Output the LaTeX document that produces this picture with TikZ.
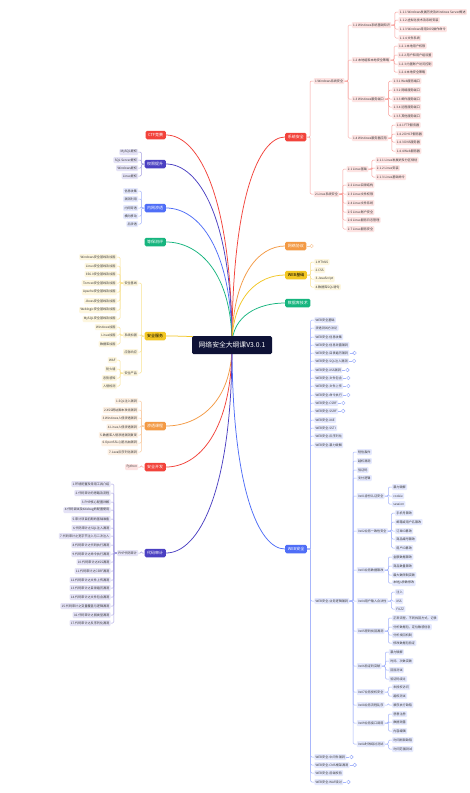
\documentclass[tikz,border=0pt]{standalone}
\usepackage{fontspec}
\setmainfont{Noto Sans CJK SC}
\usetikzlibrary{calc,backgrounds}
\definecolor{cRed}{HTML}{F2433B}
\definecolor{cInd}{HTML}{4B40C2}
\definecolor{cBlue}{HTML}{4F6EF7}
\definecolor{cGreen}{HTML}{16B57E}
\definecolor{cYel}{HTML}{F2C623}
\definecolor{cOra}{HTML}{F39A45}
\definecolor{cNavy}{HTML}{0E1236}
\tikzset{
 br/.style={rounded corners=1.5pt, fill=#1, text=white, font=\fontsize{4.0}{5}\selectfont, inner xsep=2.6pt, inner ysep=0pt, minimum height=8.5pt},
 bry/.style={br=#1, text=black},
 sub/.style={rounded corners=1pt, fill=#1!15, text=black!78, font=\fontsize{3.1}{4}\selectfont, inner xsep=1.3pt, inner ysep=0pt, minimum height=6pt},
 conn/.style={draw=#1!50, line width=0.5pt, rounded corners=1.2pt},
 mainlink/.style={draw=#1, line width=0.75pt},
 foldc/.style={circle, draw=#1!60, fill=white, line width=0.4pt, inner sep=0pt, minimum size=3.6pt},
}
\newcommand\kidsR[3]{%
 \coordinate (#1-j) at ([xshift=3.5pt]#1.east);
 \coordinate (#1-x) at ([xshift=7pt]#1.east);
 \foreach \nm/\yy/\tx in {#3}{%
   \node[sub=#2,anchor=west] (\nm) at (#1-x |- 0,\yy) {\tx};
   \draw[conn=#2] (#1.east) -- (#1-j) |- (\nm.west);
 }}
\newcommand\kidsL[3]{%
 \coordinate (#1-j) at ([xshift=-3pt]#1.west);
 \coordinate (#1-x) at ([xshift=-6pt]#1.west);
 \foreach \nm/\yy/\tx in {#3}{%
   \node[sub=#2,anchor=east] (\nm) at (#1-x |- 0,\yy) {\tx};
   \draw[conn=#2] (#1.west) -- (#1-j) |- (\nm.east);
 }}
\newcommand\fold[2]{%
 \node[foldc=#2, anchor=west] (#1-f) at ([xshift=3pt]#1.east) {};
 \draw[conn=#2] (#1.east) -- (#1-f.west);}
\newcommand\mlink[2]{%
 \draw[mainlink=#2] (ctr.center) .. controls ($(ctr.center)!0.7!(ctr.center |- #1)$) and ($(ctr.center |- #1)!0.5!(#1)$) .. (#1);}
\begin{document}
\begin{tikzpicture}[x=1pt,y=-1pt]
\useasboundingbox (0,0) rectangle (469,793);
% center
\node[fill=cNavy, text=white, rounded corners=1.5pt, font=\fontsize{6.8}{8}\selectfont, minimum width=80pt, minimum height=18pt, inner sep=0pt] (ctr) at (232,345) {网络安全大纲课V3.0.1};
% left branches
\node[br=cRed, anchor=east] (ctf) at (166,135) {CTF竞赛};
\node[br=cInd, anchor=east] (qxts) at (166,164) {权限提升};
\node[br=cBlue, anchor=east] (nwst) at (166,208) {内网渗透};
\node[br=cGreen, anchor=east] (dbcp) at (166,242) {等保测评};
\node[bry=cYel, anchor=east] (aqfw) at (166,336) {安全服务};
\node[br=cOra, anchor=east] (stkc) at (166,426) {渗透课程};
\node[br=cRed, anchor=east] (aqkf) at (166,467) {安全开发};
\node[br=cInd, anchor=east] (dmsj) at (166,553) {代码审计};
% right branches
\node[br=cRed, anchor=west] (xtaq) at (285,137) {系统安全};
\node[br=cOra, anchor=west] (wlxy) at (285,246) {网络协议};
\node[bry=cYel, anchor=west] (webjc) at (285,275) {WEB基础};
\node[br=cGreen, anchor=west] (sjjs) at (285,303) {数据库技术};
\node[br=cBlue, anchor=west] (websec) at (285,549) {WEB安全};
% system security
\kidsR{xtaq}{cRed}{win/81/{1.Windows系统安全}, lin/194/{2.Linux系统安全}}
\kidsR{win}{cRed}{w11/25/{1.1 Windows系统基础知识}, w12/60/{1.2 本地组和本地安全策略}, w13/99/{1.3 Windows服务端口}, w14/138/{1.4 Windows服务器应用}}
\kidsR{w11}{cRed}{w111/12/{1.1.1 Windows发展历史及Windows Server概述}, w112/20/{1.1.2 虚拟化技术及系统安装}, w113/29/{1.1.3 Windows常用DOS操作命令}, w114/38/{1.1.4 文件系统}}
\kidsR{w12}{cRed}{w121/46/{1.2.1 本地用户权限}, w122/55/{1.2.2 用户和用户组设置}, w123/64/{1.2.3 内置账户访问控制}, w124/72/{1.2.4 本地安全策略}}
\kidsR{w13}{cRed}{w131/81/{1.3.1 Web服务端口}, w132/90/{1.3.2 网络服务端口}, w133/99/{1.3.3 邮件服务端口}, w134/107/{1.3.4 远程服务端口}, w135/116/{1.3.5 其他服务端口}}
\kidsR{w14}{cRed}{w141/125/{1.4.1 FTP服务器}, w142/134/{1.4.2 DHCP服务器}, w143/142/{1.4.3 DNS服务器}, w144/151/{1.4.4 Web服务器}}
\kidsR{lin}{cRed}{l21/169/{2.1 Linux基础}, l22/185/{2.2 Linux目录结构}, l23/194/{2.3 Linux文件权限}, l24/203/{2.4 Linux文件系统}, l25/212/{2.5 Linux账户安全}, l26/220/{2.6 Linux服务日志管理}, l27/229/{2.7 Linux服务安全}}
\kidsR{l21}{cRed}{l211/160/{2.1.1 Linux发展史及分区规划}, l212/168/{2.1.2 Linux安装}, l213/177/{2.1.3 Linux基础命令}}
\fold{wlxy}{cOra}
\kidsR{webjc}{cYel}{h1/262/{1.HTML5}, h2/270/{2.CSS}, h3/279/{3.JavaScript}, h4/287/{4.数据库SQL语句}}
% web security
\kidsR{websec}{cBlue}{ws1/320/{WEB安全基础}, ws2/328/{渗透测试方法论}, ws3/337/{WEB安全-信息收集}, ws4/345/{WEB安全-信息泄露漏洞}, ws5/353/{WEB安全-目录遍历漏洞}, ws6/361/{WEB安全-SQL注入漏洞}, ws7/370/{WEB安全-XSS漏洞}, ws8/378/{WEB安全-文件包含}, ws9/386/{WEB安全-文件上传}, ws10/395/{WEB安全-命令执行}, ws11/403/{WEB安全-CSRF}, ws12/411/{WEB安全-SSRF}, ws13/420/{WEB安全-XXE}, ws14/428/{WEB安全-SSTI}, ws15/436/{WEB安全-反序列化}, ws16/445/{WEB安全-暴力破解}, ws17/601/{WEB安全-业务逻辑漏洞}, ws18/757/{WEB安全-中间件漏洞}, ws19/765/{WEB安全-CMS框架漏洞}, ws20/773/{WEB安全-前端校验}, ws21/782/{WEB安全-WAF绕过}}
\foreach \k in {ws5,ws6,ws7,ws8,ws9,ws10,ws11,ws12,ws18,ws19,ws21}{\fold{\k}{cBlue}}
\kidsR{ws17}{cBlue}{b1/452/{短信轰炸}, b2/461/{越权漏洞}, b3/470/{验证码}, b4/478/{支付逻辑}, bx1/496/{0x01身份认证安全}, bx2/531/{0x02业务一致性安全}, bx3/570/{0x03业务数据篡改}, bx4/601/{0x04用户输入合法性}, bx5/631/{0x05密码找回漏洞}, bx6/666/{0x06验证码突破}, bx7/692/{0x07业务授权安全}, bx8/705/{0x08业务流程乱序}, bx9/723/{0x09业务接口调用}, bx10/744/{0x0A时效绕过测试}}
\kidsR{bx1}{cBlue}{a11/487/{暴力破解}, a12/496/{cookie}, a13/504/{session}}
\kidsR{bx2}{cBlue}{a21/513/{手机号篡改}, a22/522/{邮箱或用户名篡改}, a23/531/{订单ID篡改}, a24/539/{商品编号篡改}, a25/548/{用户ID篡改}}
\kidsR{bx3}{cBlue}{a31/557/{金额数据篡改}, a32/566/{商品数量篡改}, a33/575/{最大数限制突破}, a34/583/{本地js参数修改}}
\kidsR{bx4}{cBlue}{a41/592/{注入}, a42/601/{XSS}, a43/609/{FUZZ}}
\kidsR{bx5}{cBlue}{a51/618/{正常流程、不同找回方式，记录}, a52/627/{分析数据包，定位敏感信息}, a53/635/{分析找回机制}, a54/643/{修改数据包验证}}
\kidsR{bx6}{cBlue}{a61/652/{暴力破解}, a62/661/{时间、次数突破}, a63/670/{回显测试}, a64/679/{验证码绕过}}
\kidsR{bx7}{cBlue}{a71/687/{未授权访问}, a72/696/{越权测试}}
\kidsR{bx8}{cBlue}{a81/705/{顺序执行缺陷}}
\kidsR{bx9}{cBlue}{a91/714/{恶意注册}, a92/722/{数据泄露}, a93/731/{内容编辑}}
\kidsR{bx10}{cBlue}{a101/740/{时间刷新缺陷}, a102/749/{时间范围测试}}
% left side children
\kidsL{qxts}{cInd}{q1/152/{MySQL提权}, q2/160/{SQL Server提权}, q3/168/{Windows提权}, q4/176/{Linux提权}}
\kidsL{nwst}{cBlue}{n1/191/{信息收集}, n2/199/{漏洞利用}, n3/208/{内网穿透}, n4/216/{横向移动}, n5/224/{后渗透}}
\kidsL{aqfw}{cYel}{s1/283/{安全基线}, s2/335/{系统加固}, s3/352/{应急响应}, s4/373/{安全产品}}
\kidsL{s1}{cYel}{s11/257/{Windows安全基线及加固}, s12/266/{Linux安全基线及加固}, s13/274/{IIS6.0安全基线及加固}, s14/283/{Tomcat安全基线及加固}, s15/292/{Apache安全基线及加固}, s16/301/{Jboss安全基线及加固}, s17/310/{Weblogic安全基线及加固}, s18/319/{MySQL安全基线及加固}}
\kidsL{s2}{cYel}{s21/327/{Windows加固}, s22/335/{Linux加固}, s23/344/{数据库加固}}
\kidsL{s4}{cYel}{s41/360/{WAF}, s42/369/{防火墙}, s43/378/{态势感知}, s44/386/{入侵检测}}
\kidsL{stkc}{cOra}{p1/401/{1.SQL注入漏洞}, p2/410/{2.XSS跨站脚本攻击漏洞}, p3/418/{3.Windows入侵渗透漏洞}, p4/427/{4.Linux入侵渗透漏洞}, p5/435/{5.数据库入侵渗透漏洞复现}, p6/443/{6.OpenSSL心脏出血漏洞}, p7/452/{7.Java反序列化漏洞}}
\kidsL{aqkf}{cRed}{py/467/{Python}}
\kidsL{dmsj}{cInd}{php/553/{PHP代码审计}}
\kidsL{php}{cInd}{c1/484/{1.环境配置及常用工具介绍}, c2/493/{2.代码审计的思路及流程}, c3/502/{3.PHP核心配置详解}, c4/510/{4.代码调试及Xdebug的配置使用}, c5/519/{5.审计项目前期的基础准备}, c6/528/{6.代码审计之SQL注入漏洞}, c7/536/{7.代码审计之宽字节注入与二次注入}, c8/545/{8.代码审计之代码执行漏洞}, c9/554/{9.代码审计之命令执行漏洞}, c10/562/{10.代码审计之XSS漏洞}, c11/571/{11.代码审计之CSRF漏洞}, c12/580/{12.代码审计之文件上传漏洞}, c13/588/{13.代码审计之目录遍历漏洞}, c14/597/{14.代码审计之文件包含漏洞}, c15/606/{15.代码审计之变量覆盖与逻辑漏洞}, c16/615/{16.代码审计之弱类型漏洞}, c17/623/{17.代码审计之反序列化漏洞}}
% main links
\begin{scope}[on background layer]
\fill[white] (0,0) rectangle (469,793);
\mlink{ctf.east}{cRed}
\mlink{qxts.east}{cInd}
\mlink{nwst.east}{cBlue}
\mlink{dbcp.east}{cGreen}
\mlink{aqfw.east}{cYel}
\mlink{stkc.east}{cOra}
\mlink{aqkf.east}{cRed}
\mlink{dmsj.east}{cInd}
\mlink{xtaq.west}{cRed}
\mlink{wlxy.west}{cOra}
\mlink{webjc.west}{cYel}
\mlink{sjjs.west}{cGreen}
\mlink{websec.west}{cBlue}
\end{scope}
\end{tikzpicture}
\end{document}
